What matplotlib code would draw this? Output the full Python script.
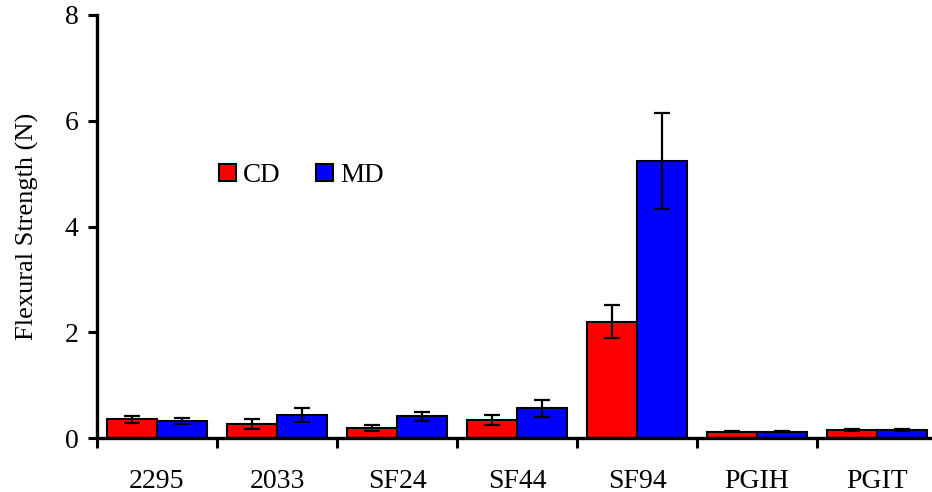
import matplotlib
matplotlib.use("Agg")
import matplotlib.pyplot as plt
from matplotlib.patches import Patch
import numpy as np

plt.rcParams['font.family'] = ['Liberation Serif', 'DejaVu Serif']

categories = ["2295", "2033", "SF24", "SF44", "SF94", "PGIH", "PGIT"]
cd_mean = [0.35, 0.265, 0.195, 0.34, 2.20, 0.12, 0.15]
cd_err = [0.06, 0.09, 0.055, 0.09, 0.31, 0.015, 0.015]
md_mean = [0.32, 0.43, 0.415, 0.56, 5.24, 0.12, 0.15]
md_err = [0.055, 0.13, 0.085, 0.16, 0.90, 0.015, 0.015]
series_names = ["CD", "MD"]
series_colors = ["#ff0000", "#0000ff"]
yticks = [0, 2, 4, 6, 8]

fig = plt.figure(figsize=(9.32, 4.92), dpi=100)
ax = fig.add_axes([97 / 932, 54 / 492, 840 / 932, 423 / 492])

x = np.arange(len(categories)) + 0.5
w = 0.417
err_kw = dict(ecolor="black", elinewidth=1.6, capsize=5.5, capthick=1.6)
ax.bar(x - w / 2, cd_mean, w, yerr=cd_err, color=series_colors[0],
       edgecolor="black", linewidth=1.5, error_kw=err_kw, zorder=2)
ax.bar(x + w / 2, md_mean, w, yerr=md_err, color=series_colors[1],
       edgecolor="black", linewidth=1.5, error_kw=err_kw, zorder=2)

ax.set_xlim(0, len(categories))
ax.set_ylim(0, 8)
ax.set_yticks(yticks)
ax.set_xticks(x)
ax.set_xticklabels(categories)
ax.set_xticks(np.arange(len(categories) + 1), minor=True)
ax.tick_params(axis="x", which="major", length=0, pad=22, labelsize=20)
ax.tick_params(axis="x", which="minor", length=7, width=2.2, direction="out")
ax.tick_params(axis="y", which="major", length=6.5, width=2.2, direction="out",
               pad=7, labelsize=20)

for side in ("top", "right"):
    ax.spines[side].set_visible(False)
for side in ("left", "bottom"):
    ax.spines[side].set_linewidth(2.4)
ax.spines["left"].set_zorder(3)

ax.set_ylabel("Flexural Strength (N)", fontsize=19, labelpad=18)

handles = [Patch(facecolor=c, edgecolor="black", linewidth=1.5, label=n)
           for c, n in zip(series_colors, series_names)]
fig.legend(handles=handles, ncol=2, loc="center left",
           bbox_to_anchor=(219 / 932, 1 - 175.5 / 492), frameon=False,
           fontsize=19.5, handlelength=0.64, handleheight=0.64,
           handletextpad=0.25, columnspacing=1.3, borderpad=0, borderaxespad=0)

fig.savefig("out.png", dpi=100)
